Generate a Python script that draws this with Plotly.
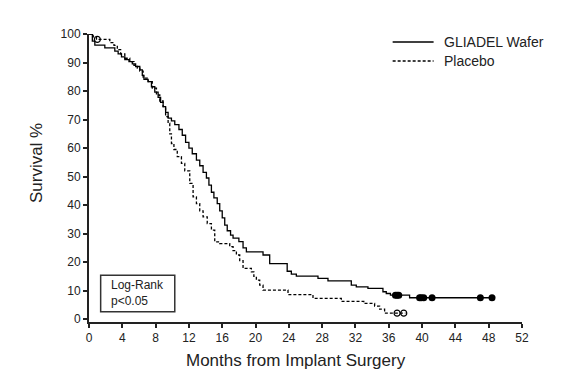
import plotly.graph_objects as go

# Kaplan-Meier step data (months, survival %)
gliadel_t = [0, 0.4, 0.7, 1.9, 3.1, 3.5, 3.9, 4.3, 4.8, 5.2, 5.6, 6.1, 6.4, 6.6, 7.1, 7.5, 7.9,
             8.3, 8.6, 8.9, 9.2, 9.5, 9.9, 10.3, 10.8, 11.2, 11.6, 12.0, 12.4, 12.9, 13.3, 13.7,
             14.1, 14.4, 14.7, 15.0, 15.4, 15.7, 16.0, 16.3, 16.6, 17.0, 17.3, 18.0, 18.5, 18.9,
             20.9, 21.7, 23.8, 24.3, 24.9, 27.5, 28.7, 31.5, 32.1, 33.5, 35.3, 35.7, 36.2, 38.5, 48.4]
gliadel_s = [100, 97.5, 96.1, 95.1, 94.0, 93.0, 92.0, 91.0, 90.3, 89.5, 88.6, 87.4, 85.5, 84.1,
             83.3, 81.5, 79.6, 77.8, 76.0, 74.5, 72.5, 70.5, 69.5, 68.2, 66.5, 64.5, 62.0, 60.0,
             58.0, 55.8, 53.8, 51.5, 49.5, 47.0, 44.5, 42.5, 40.5, 38.0, 35.5, 33.0, 31.0, 29.5,
             28.4, 27.2, 25.0, 23.6, 22.5, 19.5, 16.8, 15.8, 15.1, 14.3, 13.4, 11.9, 11.3, 10.8,
             9.6, 9.0, 8.4, 7.5, 7.5]
gliadel_cens_t = [36.8, 37.0, 37.2, 39.7, 39.9, 40.2, 41.2, 47.0, 48.4]
gliadel_cens_s = [8.4, 8.4, 8.4, 7.5, 7.5, 7.5, 7.5, 7.5, 7.5]

placebo_t = [0, 0.5, 0.9, 2.5, 3.0, 3.4, 3.8, 4.3, 4.9, 5.4, 5.8, 6.1, 6.5, 7.1, 7.6, 8.1, 8.5,
             8.9, 9.2, 9.5, 9.7, 9.9, 10.2, 10.6, 11.1, 11.5, 12.1, 12.5, 12.9, 13.3, 13.7, 14.2,
             14.7, 15.1, 15.7, 16.9, 17.3, 17.7, 18.1, 18.5, 19.5, 19.8, 20.1, 20.5, 20.9, 23.9,
             26.9, 30.3, 33.0, 34.3, 34.9, 35.5, 38.0]
placebo_s = [100, 99.0, 98.1, 97.0, 96.0, 94.5, 93.0, 91.5, 90.3, 89.0, 88.0, 87.0, 84.5, 83.3,
             81.0, 78.6, 76.5, 74.5, 71.0, 68.7, 65.0, 61.6, 59.5, 57.0, 54.6, 52.0, 47.6, 42.9,
             40.5, 38.0, 35.9, 33.5, 31.2, 27.1, 26.5, 25.4, 24.0, 22.5, 20.5, 17.8, 16.6, 15.0,
             13.7, 11.9, 10.2, 8.6, 7.3, 6.2, 5.5, 4.6, 3.5, 2.1, 2.1]
placebo_cens_t = [1.0, 37.0, 37.8]
placebo_cens_s = [98.1, 2.1, 2.1]

series_names = ["GLIADEL Wafer", "Placebo"]
x_ticks = list(range(0, 53, 4))
y_ticks = list(range(0, 101, 10))
stat_text = "Log-Rank<br>p<0.05"

# page body has an 8px margin, so the figure is drawn 8px smaller and shifted
W, H = 563, 366
L, R, T, B = 81, 48.5, 26, 52
PW, PH = W - L - R, H - T - B


def px(xr):  # reference-picture x pixel -> paper x
    return (xr - 89) / PW


def py(yr):  # reference-picture y pixel -> paper y
    return (322 - yr) / PH


FONT = "Liberation Sans, Arial"
INK = "#222"
DASH = "3px,2px"

fig = go.Figure()
fig.add_trace(go.Scatter(x=gliadel_t, y=gliadel_s, mode="lines", line_shape="hv",
                         name=series_names[0], line=dict(color="black", width=1.3)))
fig.add_trace(go.Scatter(x=placebo_t, y=placebo_s, mode="lines", line_shape="hv",
                         name=series_names[1], line=dict(color="black", width=1.3, dash=DASH)))
fig.add_trace(go.Scatter(x=gliadel_cens_t, y=gliadel_cens_s, mode="markers",
                         marker=dict(color="black", size=7, symbol="circle")))
fig.add_trace(go.Scatter(x=placebo_cens_t, y=placebo_cens_s, mode="markers",
                         marker=dict(color="black", size=6, symbol="circle-open", line=dict(width=1.2))))

# legend drawn by hand
for i, (name, dash) in enumerate(zip(series_names, [None, DASH])):
    yl = 42 + 19 * i
    fig.add_shape(type="line", xref="paper", yref="paper", x0=px(393), x1=px(434), y0=py(yl), y1=py(yl),
                  line=dict(color="black", width=1.3, dash=dash))
    fig.add_annotation(x=px(442), y=py(yl), xref="paper", yref="paper", text=name, showarrow=False,
                       xanchor="left", yanchor="middle", font=dict(size=14, color=INK, family=FONT))

fig.add_shape(type="rect", x0=1.4, x1=10.3, y0=2.6, y1=15.4, xref="x", yref="y",
              line=dict(color="#333", width=1.5), fillcolor="white", layer="below")
fig.add_annotation(x=2.4, y=9.3, xref="x", yref="y", text=stat_text, showarrow=False,
                   xanchor="left", yanchor="middle", align="left",
                   font=dict(size=12, color=INK, family=FONT))

fig.add_annotation(x=px(296), y=py(360), xref="paper", yref="paper",
                   text="Months from Implant Surgery", showarrow=False, xanchor="center", yanchor="middle",
                   font=dict(size=17, color=INK, family=FONT))
fig.add_annotation(x=px(36), y=py(163), xref="paper", yref="paper",
                   text="Survival %", showarrow=False, xanchor="center", yanchor="middle", textangle=-90,
                   font=dict(size=17, color=INK, family=FONT))

axis_common = dict(showgrid=False, zeroline=False, showline=True, linecolor=INK, linewidth=2,
                   ticks="outside", ticklen=4, tickwidth=1.5, tickcolor=INK,
                   tickfont=dict(size=12, color=INK, family=FONT))
fig.update_xaxes(range=[0, 52], tickvals=x_ticks, **axis_common)
fig.update_yaxes(range=[-1, 100], tickvals=y_ticks, **axis_common)

fig.update_layout(
    width=W, height=H,
    margin=dict(l=L, r=R, t=T, b=B, autoexpand=False),
    plot_bgcolor="white", paper_bgcolor="white",
    showlegend=False,
)
fig.update_traces(cliponaxis=False)

fig.write_html("out.html")
